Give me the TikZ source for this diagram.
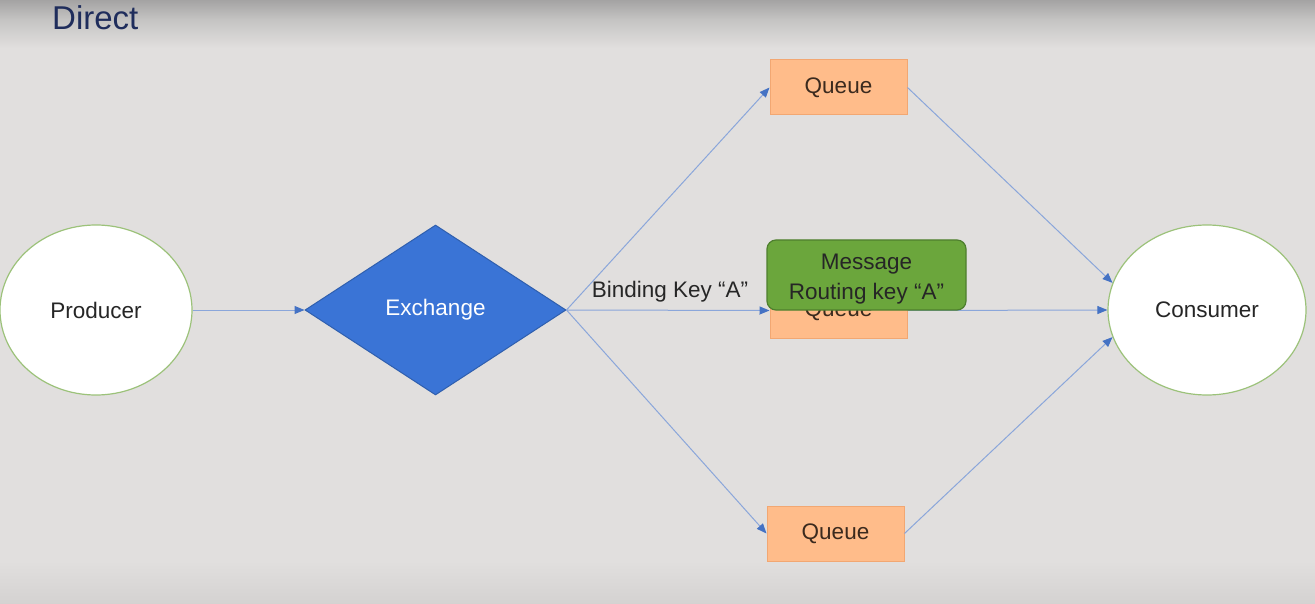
\documentclass[tikz,border=0pt]{standalone}
\usepackage{fontspec}
\setmainfont{Liberation Sans}
\usetikzlibrary{shapes.geometric,arrows.meta}
\definecolor{bgc}{HTML}{E1DFDE}
\definecolor{bgmid}{HTML}{C6C5C4}
\definecolor{bgbot}{HTML}{D4D2D1}
\definecolor{bgtop}{HTML}{A4A3A3}
\definecolor{titlec}{HTML}{1F2D5C}
\definecolor{ellb}{HTML}{9CC27A}
\definecolor{exf}{HTML}{3A74D6}
\definecolor{exb}{HTML}{2F5FAE}
\definecolor{qf}{HTML}{FFBC8A}
\definecolor{qb}{HTML}{F2A772}
\definecolor{qt}{HTML}{3B2A1E}
\definecolor{mf}{HTML}{6BA63C}
\definecolor{mb}{HTML}{4E7F2E}
\definecolor{linec}{HTML}{8AA6DA}
\definecolor{tipc}{HTML}{4472C4}
\pgfdeclareverticalshading{bgshade}{100bp}{color(0bp)=(bgbot); color(25bp)=(bgbot); color(28.6bp)=(bgc); color(71.0bp)=(bgc); color(73.3bp)=(bgmid); color(75bp)=(bgtop); color(100bp)=(bgtop)}
\tikzset{
  bigtext/.style={font=\fontsize{22.5}{27}\selectfont},
  ellnode/.style={ellipse,draw=ellb,line width=1.2pt,fill=white,inner sep=0pt,bigtext,text=black!85},
  queue/.style={rectangle,draw=qb,line width=1pt,fill=qf,minimum width=137pt,minimum height=55pt,inner sep=0pt,bigtext,text=qt},
  conn/.style={draw=linec,line width=1pt,-{Triangle[length=10pt,width=8pt,color=tipc]}},
}
\begin{document}
\begin{tikzpicture}[x=1pt,y=-1pt]
\useasboundingbox (0,0) rectangle (1315,604);
\shade[shading=bgshade] (0,0) rectangle (1315,604);
\node[anchor=west,text=titlec,font=\fontsize{33}{38}\selectfont,inner sep=0pt] (title) at (52,18) {Direct};

\node[ellnode,minimum width=192pt,minimum height=170pt] (prod) at (96,310) {\raisebox{-1pt}{Producer}};
\node[diamond,draw=exb,line width=1pt,fill=exf,minimum width=261pt,minimum height=170pt,inner sep=0pt,text=white,bigtext] (ex) at (435.5,310) {\raisebox{-2pt}{Exchange}};
\node[queue] (q1) at (838.5,87.5) {\raisebox{-2pt}{Queue}};
\node[queue] (q2) at (838.5,310.5) {\raisebox{-2pt}{Queue}};
\node[queue] (q3) at (835.5,533.5) {\raisebox{-2pt}{Queue}};
\node[ellnode,minimum width=198pt,minimum height=170pt] (cons) at (1207,310) {\raisebox{-1pt}{Consumer}};

\draw[conn] (prod.east) -- (ex.west);
\draw[conn] (ex.east) -- (q1.west);
\draw[conn] (ex.east) -- (q2.west);
\draw[conn] (ex.east) -- (q3.west);
\draw[conn] (q1.east) -- (cons.164);
\draw[conn] (q2.east) -- (cons.west);
\draw[conn] (q3.east) -- (cons.196);

\node[bigtext,text=black!85,inner sep=0pt] (bk) at (670,292) {Binding Key “A”};
\node[rectangle,rounded corners=9pt,draw=mb,line width=1.2pt,fill=mf,minimum width=199pt,minimum height=70pt,inner sep=0pt] (msg) at (866.5,275) {};
\node[align=center,font=\fontsize{22.5}{30}\selectfont,text=black!85,inner sep=0pt] (msgtext) at (866.5,279) {Message\\Routing key “A”};
\end{tikzpicture}
\end{document}
